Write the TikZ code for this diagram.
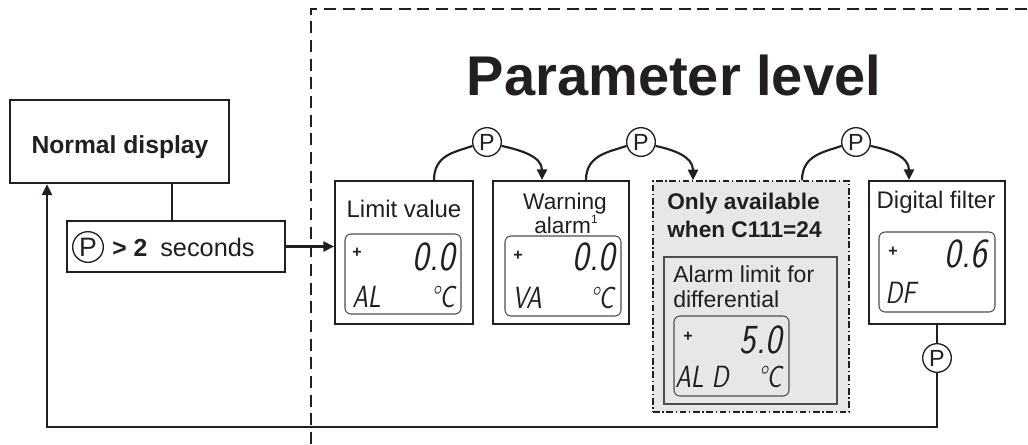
\documentclass[tikz,border=0pt]{standalone}
\usepackage{fontspec}
\usepackage{graphicx}
\setmainfont{Liberation Sans}
\usetikzlibrary{arrows.meta,fit}
\definecolor{panel}{HTML}{E6E7E8}
\definecolor{lcdline}{HTML}{4D4D4D}
\definecolor{ink}{HTML}{231F20}
\newcommand{\fsz}[1]{\fontsize{#1}{#1}\selectfont}
\newcommand{\lcdtext}[2]{{\fsz{#1}\sffamily\itshape\scalebox{0.82}[1]{#2}}}
\newcommand{\lcdbig}[2]{{\fsz{#1}\sffamily\itshape\scalebox{0.85}[1]{#2}}}
\begin{document}
\begin{tikzpicture}[x=0.75pt,y=-0.75pt,
  conn/.style={line width=1.6pt, draw=ink},
  tip/.style={-{Triangle[length=8pt,width=7.5pt]}},
  frame/.style={draw=ink, line width=1.4pt, inner sep=0pt},
  pcirc/.style={circle, draw=ink, line width=1pt, fill=white, minimum size=21.5pt, inner sep=0pt, font=\fsz{17.5}, text=ink},
  lcd/.style={draw=lcdline, line width=0.8pt, rounded corners=4.5pt, inner sep=0pt, fill=white},
  lbl/.style={inner sep=0pt, font=\fsz{18}, text=ink},
  plus/.style={inner sep=0pt, font=\fsz{12}\bfseries, text=ink},
  lcdtx/.style={inner sep=0pt, text=ink}
]
\useasboundingbox (0,0) rectangle (1028,444);

% parameter level frame
\draw[line width=1pt, dash pattern=on 9pt off 5pt, draw=ink] (311,444) -- (311,9) -- (1028,9);
\node[lbl, font=\fsz{42}\bfseries, anchor=base] (title) at (674,95) {Parameter level};

% normal display and trigger
\node[frame, line width=2pt, fit={(10,100) (229,183)}] (nd) {};
\node[lbl, font=\fsz{18.5}\bfseries, anchor=base] (ndtext) at (120,153) {Normal display};
\node[frame, line width=1pt, fit={(67,221) (285,272)}] (sec) {};
\node[pcirc, minimum size=23pt, font=\fsz{20}] (p0) at (88,247) {P};
\node[lbl, font=\fsz{18.5}\bfseries, anchor=base west] (gt) at (112,256) {> 2};
\node[lbl, font=\fsz{19}, anchor=base west] (secs) at (160,256) {seconds};

% parameter boxes
\node[frame, fit={(335,181) (473,324)}] (limit) {};
\node[frame, fit={(493,181) (629,324)}] (warn) {};
\node[frame, fill=panel, line width=1pt, dash pattern=on 5pt off 2pt on 1pt off 2pt, fit={(653,181) (849,412)}] (cond) {};
\node[draw=lcdline, line width=0.9pt, fill=panel, inner sep=0pt, fit={(664,257) (837,404)}] (inner) {};
\node[frame, fit={(869,181) (1005,324)}] (digi) {};

% labels
\node[lbl, anchor=base] (limtx) at (404,217) {Limit value};
\node[lbl, font=\fsz{17}, anchor=base] (warntx1) at (565,209) {Warning};
\node[lbl, font=\fsz{17}, anchor=base] (warntx2) at (566,233) {alarm{\fsz{9}\raisebox{7pt}{1}}};
\node[lbl, font=\fsz{17}\bfseries, anchor=base west] (c1) at (667,209) {Only available};
\node[lbl, font=\fsz{17}\bfseries, anchor=base west] (c2) at (667,237) {when C111=24};
\node[lbl, font=\fsz{17.3}, anchor=base west] (i1) at (673,282) {Alarm limit for};
\node[lbl, font=\fsz{17.3}, anchor=base west] (i2) at (673,307) {differential};
\node[lbl, anchor=base] (digtx) at (936,208) {Digital filter};

% LCD displays
\node[lcd, fit={(345,234) (461,314)}] (lcd1) {};
\node[lcd, fit={(505,236) (621,316)}] (lcd2) {};
\node[lcd, fill=panel, fit={(674,316) (789,396)}] (lcd3) {};
\node[lcd, fit={(879,232) (995,312)}] (lcd4) {};

\node[plus] (pl1) at (357,253) {+};
\node[lcdtx, anchor=base east] (d1) at (455,270) {\lcdbig{31}{0.0}};
\node[lcdtx, anchor=base west] (n1) at (352,307) {\lcdtext{23}{AL}};
\node[lcdtx, anchor=base east] (u1) at (455,307) {\lcdtext{23}{°C}};

\node[plus] (pl2) at (518,256) {+};
\node[lcdtx, anchor=base east] (d2) at (615,270) {\lcdbig{31}{0.0}};
\node[lcdtx, anchor=base west] (n2) at (512,308) {\lcdtext{23}{VA}};
\node[lcdtx, anchor=base east] (u2) at (614,308) {\lcdtext{23}{°C}};

\node[plus] (pl3) at (688,337) {+};
\node[lcdtx, anchor=base east] (d3) at (782,353) {\lcdbig{31}{5.0}};
\node[lcdtx, anchor=base west] (n3) at (675,387) {\lcdtext{23}{AL D}};
\node[lcdtx, anchor=base east] (u3) at (782,387) {\lcdtext{23}{°C}};

\node[plus] (pl4) at (893,252) {+};
\node[lcdtx, anchor=base east] (d4) at (987,267) {\lcdbig{31}{0.6}};
\node[lcdtx, anchor=base west] (n4) at (885,303) {\lcdtext{23}{DF}};

% P buttons
\node[pcirc] (p1) at (487,142) {P};
\node[pcirc] (p2) at (641,142) {P};
\node[pcirc] (p3) at (856,142) {P};
\node[pcirc] (p4) at (937,358) {P};

\path (limit.north) ++(30,0) coordinate (a1);
\path (warn.north) ++(-19,0) coordinate (b1);
\path (warn.north) ++(25,0) coordinate (a2);
\path (cond.north) ++(-58,0) coordinate (b2);
\path (cond.north) ++(51,0) coordinate (a3);
\path (digi.north) ++(-28,0) coordinate (b3);

\draw[conn] (a1) .. controls +(0,-26) and +(-16,6) .. (p1.195);
\draw[conn,tip] (p1.-15) .. controls +(18,4) and +(0,-24) .. (b1);
\draw[conn] (a2) .. controls +(0,-26) and +(-16,6) .. (p2.195);
\draw[conn,tip] (p2.-15) .. controls +(18,4) and +(0,-24) .. (b2);
\draw[conn] (a3) .. controls +(0,-26) and +(-16,6) .. (p3.195);
\draw[conn,tip] (p3.-15) .. controls +(18,4) and +(0,-24) .. (b3);

% connections
\coordinate (sj) at (172,221);
\draw[conn] (nd.south -| sj) -- (sj);
\draw[conn,tip] (sec.east) -- (sec.east -| limit.west);
\coordinate (br) at (937,427);
\coordinate (bl) at (47,427);
\draw[conn] (digi.south) -- (p4.north);
\draw[conn,tip] (p4.south) -- (br) -- (bl) -- (nd.south -| bl);
\end{tikzpicture}
\end{document}
